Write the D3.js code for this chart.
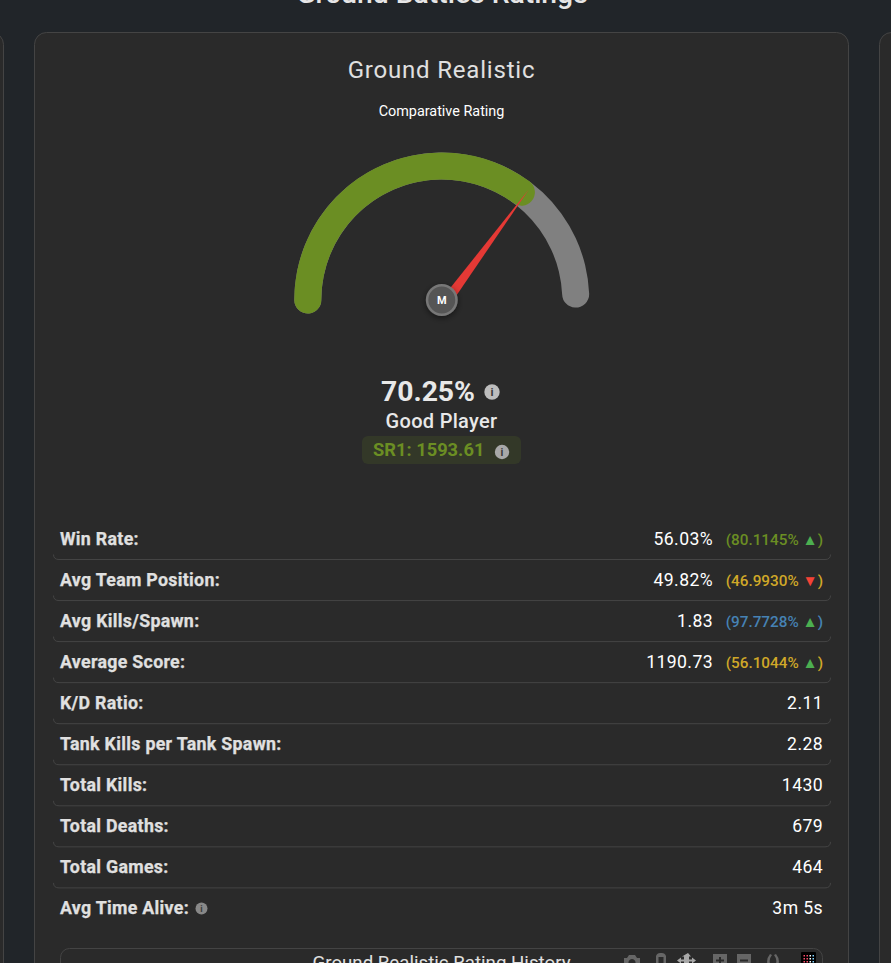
<!DOCTYPE html>
<html>
<head>
<meta charset="utf-8">
<title>Ground Realistic</title>
<script src="https://cdn.jsdelivr.net/npm/d3@7"></script>
<style>
    html, body { margin: 0; padding: 0; background: #212529; overflow: hidden; }
    svg { display: block; }
    text { font-family: Roboto, "Noto Sans", sans-serif; }
</style>
</head>
<body>
<svg width="891" height="963"></svg>
<script>
// Data
const rating = 70.25;
const trackEnd = 98.6;
const ratingLabel = "Good Player";
const srLabel = "SR1: 1593.61";

const statLabels = ["Win Rate:", "Avg Team Position:", "Avg Kills/Spawn:", "Average Score:", "K/D Ratio:",
    "Tank Kills per Tank Spawn:", "Total Kills:", "Total Deaths:", "Total Games:", "Avg Time Alive:"];
const statValues = ["56.03%", "49.82%", "1.83", "1190.73", "2.11", "2.28", "1430", "679", "464", "3m 5s"];
const percentiles = [80.1145, 46.9930, 97.7728, 56.1044];
const trends = ["up", "down", "up", "up"];

const svg = d3.select("svg");

// Page background pieces
svg.append("text")
    .attr("x", 442).attr("y", 3)
    .attr("text-anchor", "middle")
    .attr("font-size", 28.3).attr("font-weight", 500)
    .attr("fill", "#e6e6e6")
    .text("Ground Battles Ratings");

const cardFill = "#2a2a2a", cardLine = "#444444";
[[-200, 203], [34, 814], [879, 300]].forEach(([x, w]) => {
    svg.append("rect")
        .attr("x", x + 0.5).attr("y", 32.5)
        .attr("width", w).attr("height", 1100)
        .attr("rx", 12)
        .attr("fill", cardFill).attr("stroke", cardLine);
});

// Headings
svg.append("text")
    .attr("x", 441.5).attr("y", 78)
    .attr("text-anchor", "middle")
    .attr("font-size", 24).attr("letter-spacing", 0.8)
    .attr("fill", "#e0e0e0")
    .text("Ground Realistic");

svg.append("text")
    .attr("x", 441.5).attr("y", 116)
    .attr("text-anchor", "middle")
    .attr("font-size", 14.4)
    .attr("fill", "#ffffff")
    .text("Comparative Rating");

// Gauge
const cx = 441.8, cy = 300, gaugeR = 134, gaugeW = 27;
const angle = d3.scaleLinear().domain([0, 100]).range([-Math.PI / 2, Math.PI / 2]);
const capAngle = Math.asin(gaugeW / 2 / gaugeR);
const arc = d3.arc()
    .innerRadius(gaugeR - gaugeW / 2)
    .outerRadius(gaugeR + gaugeW / 2)
    .cornerRadius(gaugeW / 2);

const gauge = svg.append("g").attr("transform", `translate(${cx},${cy})`);

gauge.append("path")
    .attr("d", arc({ startAngle: angle(0) - capAngle, endAngle: angle(trackEnd) + capAngle }))
    .attr("fill", "#808080");

gauge.append("path")
    .attr("d", arc({ startAngle: angle(0) - capAngle, endAngle: angle(rating) + capAngle }))
    .attr("fill", "#6b8e23");

// Needle: the triangle sits a little to the side of the pivot, as in the original
const needleLen = 141, needleHalf = 5.2, needleShift = 4.3;
gauge.append("path")
    .attr("transform", `rotate(${angle(rating) * 180 / Math.PI})`)
    .attr("d", d3.line()([
        [needleShift - needleHalf, 0],
        [needleShift, -needleLen],
        [needleShift + needleHalf, 0]
    ]) + "Z")
    .attr("fill", "#e53935");

// Hub
const defs = svg.append("defs");
const shadow = defs.append("filter").attr("id", "hubShadow")
    .attr("x", "-50%").attr("y", "-50%").attr("width", "200%").attr("height", "200%");
shadow.append("feDropShadow")
    .attr("dx", 0).attr("dy", 2).attr("stdDeviation", 3)
    .attr("flood-color", "#000").attr("flood-opacity", 0.5);

gauge.append("circle")
    .attr("r", 14.7)
    .attr("fill", "#555555")
    .attr("stroke", "#777777").attr("stroke-width", 2.5)
    .attr("filter", "url(#hubShadow)");

gauge.append("text")
    .attr("y", 4)
    .attr("text-anchor", "middle")
    .attr("font-size", 11).attr("font-weight", 700)
    .attr("fill", "#ffffff")
    .text("M");

// Info icon used three times
function infoIcon(x, y, r, fill) {
    svg.append("circle").attr("cx", x).attr("cy", y).attr("r", r).attr("fill", fill);
    svg.append("text")
        .attr("x", x).attr("y", y + r * 0.55)
        .attr("text-anchor", "middle")
        .attr("font-size", r * 1.5).attr("font-weight", 700)
        .attr("fill", "#3a3a3a")
        .text("i");
}

// Rating summary
svg.append("text")
    .attr("x", 428).attr("y", 401)
    .attr("text-anchor", "middle")
    .attr("font-size", 28.3).attr("font-weight", 700)
    .attr("fill", "#e8e8e8")
    .text(rating.toFixed(2) + "%");
infoIcon(492, 392, 7.7, "#bdbdbd");

svg.append("text")
    .attr("x", 441.5).attr("y", 428)
    .attr("text-anchor", "middle")
    .attr("font-size", 20).attr("font-weight", 500).attr("letter-spacing", 0.3)
    .attr("fill", "#e8e8e8")
    .text(ratingLabel);

svg.append("rect")
    .attr("x", 362).attr("y", 436)
    .attr("width", 159).attr("height", 28)
    .attr("rx", 6)
    .attr("fill", "#6b8e23").attr("fill-opacity", 0.15);

svg.append("text")
    .attr("x", 373).attr("y", 456)
    .attr("font-size", 18.3).attr("font-weight", 700)
    .attr("fill", "#6b8e23")
    .text(srLabel);
infoIcon(502, 452, 7.2, "#a8a8a8");

// Stat rows
const rowY = d3.scaleBand()
    .domain(statLabels)
    .range([518, 928.5]);

const percentileColor = d3.scaleThreshold()
    .domain([65, 90])
    .range(["#d0a828", "#6b8e23", "#4682b4"]);

const rows = svg.selectAll(".stat-row")
    .data(statLabels)
    .enter().append("g")
    .attr("class", "stat-row")
    .attr("transform", d => `translate(0,${rowY(d)})`);

// bottom border with the rounded ends the row has, none under the last one
rows.filter((d, i) => i < statLabels.length - 1)
    .append("path")
    .attr("d", "M53.5,36.5 Q53.5,41.5 59,41.5 L825,41.5 Q830.5,41.5 830.5,36.5")
    .attr("fill", "none")
    .attr("stroke", "#444444");

rows.append("text")
    .attr("x", 60).attr("y", 27)
    .attr("font-size", 17.8).attr("font-weight", 700).attr("letter-spacing", 0.3)
    .attr("fill", "#e0e0e0")
    .attr("stroke", "#e0e0e0").attr("stroke-width", 0.25)
    .text(d => d);

rows.append("text")
    .attr("x", (d, i) => i < percentiles.length ? 713 : 823)
    .attr("y", 27)
    .attr("text-anchor", "end")
    .attr("font-size", 17.6).attr("letter-spacing", 0.4)
    .attr("fill", "#ffffff")
    .text((d, i) => statValues[i]);

rows.filter((d, i) => i < percentiles.length)
    .append("text")
    .attr("x", 823).attr("y", 27)
    .attr("text-anchor", "end")
    .attr("font-size", 15.3).attr("font-weight", 500)
    .attr("fill", (d, i) => percentileColor(percentiles[i]))
    .each(function(d, i) {
        const t = d3.select(this);
        t.append("tspan").text(`(${percentiles[i].toFixed(4)}% `);
        t.append("tspan")
            .attr("fill", trends[i] === "up" ? "#4caf50" : "#f44336")
            .text(trends[i] === "up" ? "\u25B2" : "\u25BC");
        t.append("tspan").text(")");
    });

infoIcon(201.5, 908.5, 6, "#888888");

// History chart panel, cut off by the window
svg.append("rect")
    .attr("x", 60.5).attr("y", 948.5)
    .attr("width", 762).attr("height", 200)
    .attr("rx", 9)
    .attr("fill", cardFill).attr("stroke", cardLine);

svg.append("text")
    .attr("x", 441.5).attr("y", 969)
    .attr("text-anchor", "middle")
    .attr("font-size", 18.7)
    .attr("fill", "#e0e0e0")
    .text("Ground Realistic Rating History");

// Modebar icons
const bar = svg.append("g").attr("fill", "#666666");
bar.append("path").attr("d", "M624,958 h3 l2,-3 h6 l2,3 h3 v8 h-16 Z M632,959 a3.5,3.5 0 1 0 0.01,0 Z").attr("fill-rule", "evenodd");
bar.append("path").attr("d", "M656,966 v-10 a4.5,4.5 0 0 1 4.5,-3 h1 a4.5,4.5 0 0 1 4.5,3 v10 Z M658.5,957 v6 h5 v-6 Z").attr("fill-rule", "evenodd");
bar.append("path").attr("fill", "#a8a8a8").attr("d", "M688,953 l3,3.5 h-2 v3 h3 v-2 l4,3 -4,3 v-2 h-3 v3 h-5 v-3 h-3 v2 l-4,-3 4,-3 v2 h3 v-3 h-2 Z");
bar.append("path").attr("d", "M713,954 h14 v12 h-14 Z M719,957 v2.5 h-3 v2 h3 v2.5 h2 v-2.5 h3 v-2 h-3 v-2.5 Z").attr("fill-rule", "evenodd");
bar.append("path").attr("d", "M737,954 h14 v12 h-14 Z M740,959.500 v2 h8 v-2 Z").attr("fill-rule", "evenodd");
bar.append("path").attr("d", "M770,954 a12,12 0 0 0 -2,12 h3 a10,10 0 0 1 1,-11 Z M776,954 a12,12 0 0 1 2,12 h-3 a10,10 0 0 0 -1,-11 Z");
svg.append("rect").attr("x", 801).attr("y", 952).attr("width", 15).attr("height", 14).attr("rx", 1).attr("fill", "#000000");
const dotColors = ["#ff4d6d", "#ff4d6d", "#ffffff", "#7fd4ff"];
dotColors.forEach((c, i) => {
    [0, 1, 2].forEach(j => {
        svg.append("rect")
            .attr("x", 803.5 + i * 3).attr("y", 955 + j * 3)
            .attr("width", 1.5).attr("height", 1.5)
            .attr("fill", c);
    });
});
</script>
</body>
</html>
